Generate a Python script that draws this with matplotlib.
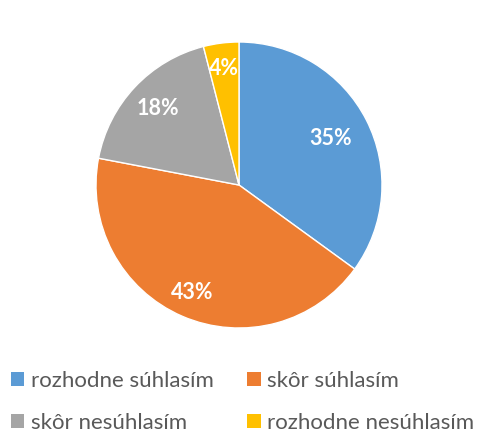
import matplotlib
matplotlib.use("Agg")
import numpy as np
import matplotlib.pyplot as plt
from matplotlib.patches import Patch

labels = ["rozhodne súhlasím", "skôr súhlasím", "skôr nesúhlasím", "rozhodne nesúhlasím"]
shares = [35, 43, 18, 4]
colors = ["#5B9BD5", "#ED7D31", "#A5A5A5", "#FFC000"]
label_dist = [0.72, 0.82, 0.78, 0.82]

plt.rcParams["font.family"] = ["Lato", "DejaVu Sans"]

fig = plt.figure(figsize=(4.78, 4.32), dpi=100)
# pie area: center (239,185) px, radius 143 px
cx, cy, r = 239, 185, 143
ax = fig.add_axes([(cx - r) / 478, (432 - cy - r) / 432, 2 * r / 478, 2 * r / 432])

wedges, texts, autotexts = ax.pie(
    shares, colors=colors, startangle=90, counterclock=False,
    autopct="%1.0f%%", pctdistance=0.78,
    wedgeprops={"edgecolor": "white", "linewidth": 1},
    textprops={"color": "white", "fontsize": 15.5, "fontweight": "bold"})
# Excel-like label placement, a bit different per slice
for w, t, d in zip(wedges, autotexts, label_dist):
    ang = np.deg2rad((w.theta1 + w.theta2) / 2)
    t.set_position((d * np.cos(ang), d * np.sin(ang)))
ax.set_aspect("equal")
ax.set_xlim(-1, 1)
ax.set_ylim(-1, 1)

order = [0, 2, 1, 3]
handles = [Patch(facecolor=colors[i], edgecolor="none") for i in order]
fig.legend(handles, [labels[i] for i in order], ncol=2, loc="upper left",
           bbox_to_anchor=(11 / 478, 1 - 371 / 432), frameon=False,
           fontsize=16, labelcolor="#595959",
           handlelength=0.6, handleheight=0.6, handletextpad=0.3,
           columnspacing=1.5, labelspacing=1.0, borderaxespad=0.0,
           borderpad=0.0)

fig.savefig("out.png", dpi=100)
